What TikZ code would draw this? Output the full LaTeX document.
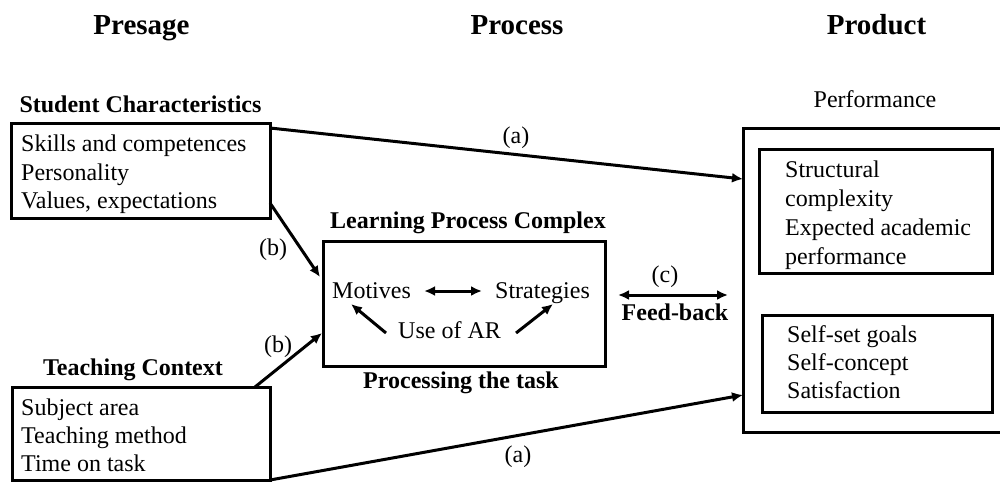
\documentclass[tikz,border=0pt]{standalone}
\usepackage{fontspec}
\setmainfont{Liberation Serif}
\usetikzlibrary{arrows.meta,calc}
\begin{document}
\begin{tikzpicture}[x=1pt,y=-1pt,
  box/.style={draw=black,line width=3pt,inner sep=0pt,outer sep=0pt},
  lbl/.style={inner sep=0pt,anchor=base west,font=\fontsize{24}{28}\selectfont},
  ctr/.style={inner sep=0pt,anchor=base,font=\fontsize{24}{28}\selectfont},
  hd/.style={inner sep=0pt,anchor=base,font=\fontsize{29}{34}\selectfont\bfseries},
  sub/.style={inner sep=0pt,anchor=base,font=\fontsize{24}{28}\selectfont\bfseries},
  arr/.style={line width=3pt,-{Latex[length=11pt,width=10pt]}},
  darr/.style={line width=3pt,{Latex[length=11pt,width=10pt]}-{Latex[length=11pt,width=10pt]}}
]
\useasboundingbox (0,0) rectangle (1000,482);

% headings
\node[hd] (h1) at (141.5,34) {Presage};
\node[hd] (h2) at (517,34) {Process};
\node[hd] (h3) at (876.5,34) {Product};

% student characteristics
\node[sub] (sct) at (140.5,112) {Student Characteristics};
\node[box,minimum width=259pt,minimum height=95pt] (sc) at (140.5,170.5) {};
\node[lbl] (sc1) at (21,151) {Skills and competences};
\node[lbl] (sc2) at (21,180) {Personality};
\node[lbl] (sc3) at (21,208) {Values, expectations};

% teaching context
\node[sub] (tct) at (133,375) {Teaching Context};
\node[box,minimum width=258pt,minimum height=93pt] (tc) at (141,433.5) {};
\node[lbl] (tc1) at (21,415) {Subject area};
\node[lbl] (tc2) at (21,443) {Teaching method};
\node[lbl] (tc3) at (21,471) {Time on task};

% learning process complex
\node[sub] (lpct) at (468,228) {Learning Process Complex};
\node[box,minimum width=282pt,minimum height=125pt] (lpc) at (464,303.5) {};
\node[sub] (ptt) at (461,388) {Processing the task};
\node[lbl] (mot) at (332,298) {Motives};
\node[lbl] (str) at (495,298) {Strategies};
\node[lbl] (uar) at (398,338) {Use of AR};

% product
\node[ctr] (perf) at (875,107) {Performance};
\node[box,minimum width=267pt,minimum height=304pt] (pr) at (876.5,280) {};
\node[box,minimum width=233pt,minimum height=124pt] (ib1) at (875.5,211) {};
\node[box,minimum width=230pt,minimum height=97pt] (ib2) at (877,363.5) {};
\node[lbl] (p1) at (785,177) {Structural};
\node[lbl] (p2) at (785,206) {complexity};
\node[lbl] (p3) at (785,235) {Expected academic};
\node[lbl] (p4) at (785,264) {performance};
\node[lbl] (q1) at (787,342) {Self-set goals};
\node[lbl] (q2) at (787,370) {Self-concept};
\node[lbl] (q3) at (787,398) {Satisfaction};

% labels
\node[ctr] (la1) at (516,143) {(a)};
\node[ctr] (la2) at (518,462) {(a)};
\node[ctr] (lb1) at (273,255) {(b)};
\node[ctr] (lb2) at (278,352) {(b)};
\node[ctr] (lc) at (665,282) {(c)};
\node[sub] (fb) at (675,320) {Feed-back};

% connectors
\draw[arr] ($(sc.north east)+(0,5)$) -- ($(pr.north west)+(0,51)$);
\draw[arr] (tc.south east) -- ($(pr.north west)+(0,267)$);
\draw[arr] ($(sc.north east)+(0,80)$) -- ($(lpc.north west)+(-3,36)$);
\draw[arr] ($(tc.north east)+(-15,0)$) -- ($(lpc.north west)+(-1,92)$);
\draw[darr] ($(lpc.east)+(13,-8.5)$) -- ($(pr.west)+(-15,15)$);
\draw[darr] ($(mot.base east)+(13,-7)$) -- ($(str.base west)+(-13,-7)$);
\draw[arr] ($(uar.base west)+(-12,-5)$) -- ($(mot.base west)+(19,6)$);
\draw[arr] ($(uar.base east)+(15,-5)$) -- ($(str.base west)+(58,6)$);
\end{tikzpicture}
\end{document}
